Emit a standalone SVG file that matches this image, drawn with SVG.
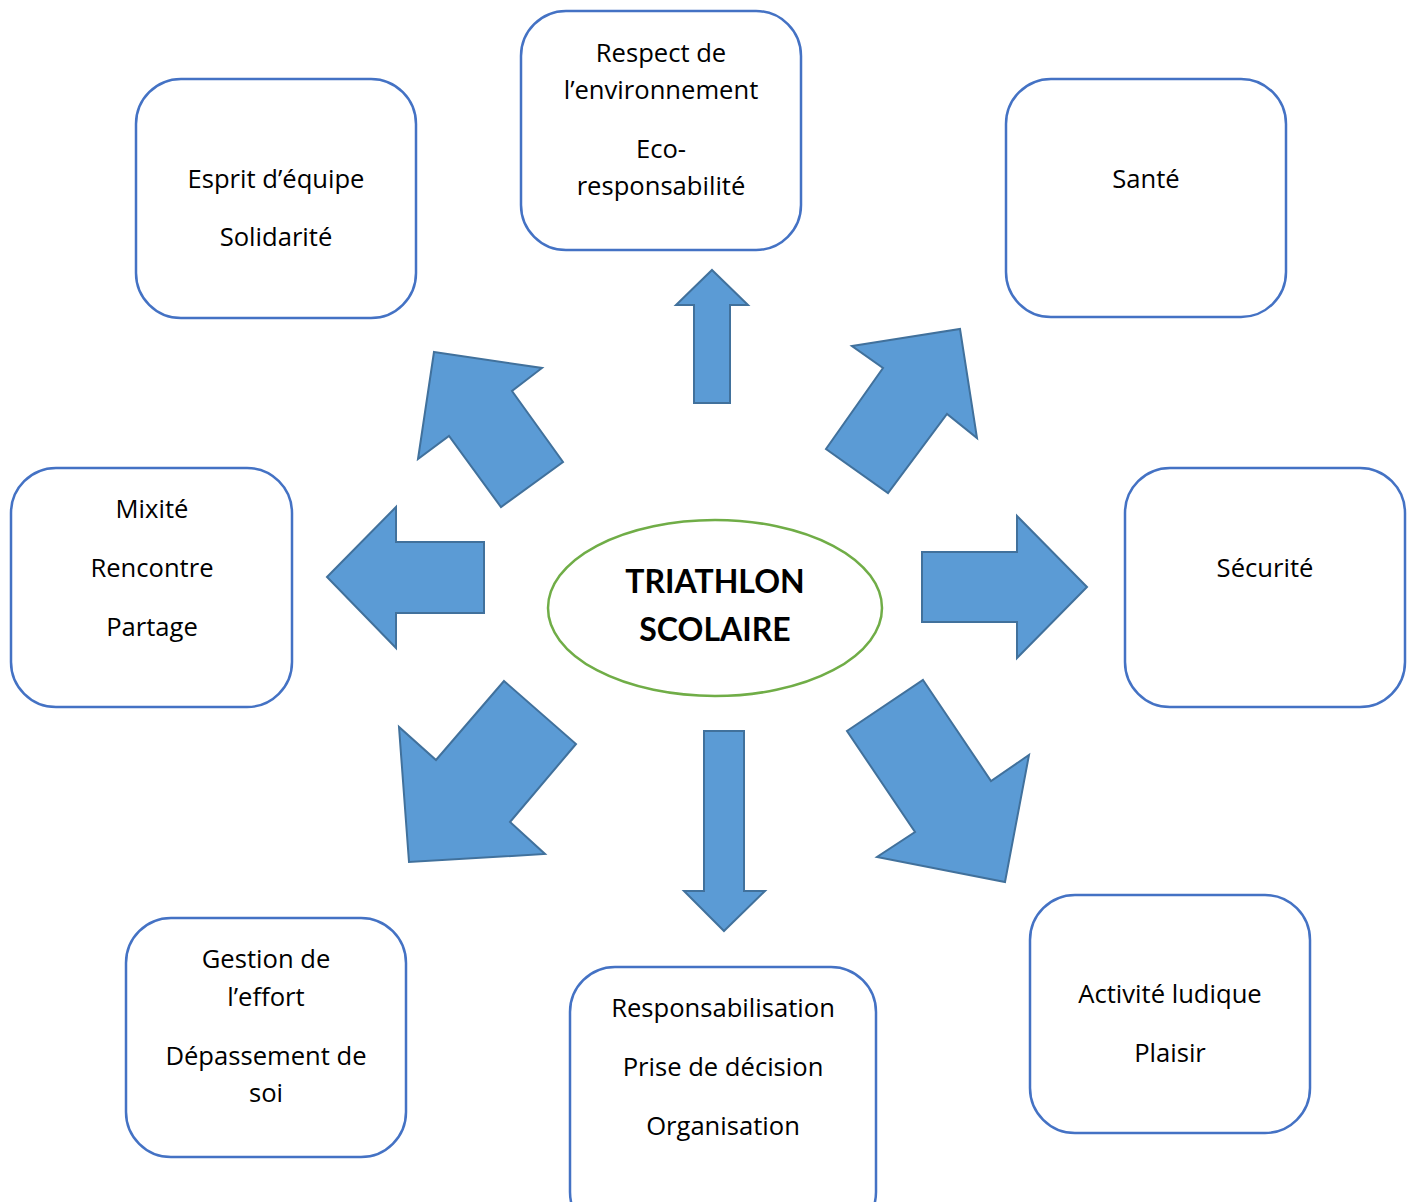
<svg xmlns="http://www.w3.org/2000/svg" width="1415" height="1202" viewBox="0 0 1415 1202">
<style>
.box{fill:#fff;stroke:#4472C4;stroke-width:2.5}
.arr{fill:#5B9BD5;stroke:#41719C;stroke-width:2;stroke-linejoin:miter}
.t{font-family:"Open Sans","Liberation Sans",sans-serif;font-size:25.6px;fill:#000;text-anchor:middle}
.c{font-family:Lato,"Liberation Sans",sans-serif;font-size:32px;font-weight:bold;fill:#000;text-anchor:middle}
</style>
<rect width="1415" height="1202" fill="#fff"/>
<g id="connectors">
<polygon class="arr" points="712,270 748,305 730,305 730,403 694,403 694,305 676,305"/>
<polygon class="arr" points="434,352 542,368 512,391 563,462 501,507 449,436 418,459"/>
<polygon class="arr" points="852,346 960,329 977,438 947,414 888,493 826,449 883,368"/>
<polygon class="arr" points="327,577 396,507 396,542 484,542 484,613 396,613 396,648"/>
<polygon class="arr" points="1087,587 1017,516 1017,552 922,552 922,622 1017,622 1017,658"/>
<polygon class="arr" points="724,931 765,891 744,891 744,731 704,731 704,891 684,891"/>
<polygon class="arr" points="504,681 576,744 510,822 545,854 409,862 399,727 436,760"/>
<polygon class="arr" points="923,680 991,781 1029,755 1005,882 877,857 915,832 847,731"/>
</g>
<g id="center">
<ellipse cx="715" cy="608" rx="167" ry="88" fill="#fff" stroke="#70AD47" stroke-width="2.5"/>
<text class="c" x="715" y="593">TRIATHLON</text>
<text class="c" x="715" y="641">SCOLAIRE</text>
</g>
<g id="n-esprit">
<rect class="box" x="136" y="79" width="280" height="239" rx="45"/>
<text class="t" x="276" y="188">Esprit d’équipe</text>
<text class="t" x="276" y="246">Solidarité</text>
</g>
<g id="n-respect">
<rect class="box" x="521" y="11" width="280" height="239" rx="45"/>
<text class="t" x="661" y="62">Respect de</text>
<text class="t" x="661" y="99">l’environnement</text>
<text class="t" x="661" y="158">Eco-</text>
<text class="t" x="661" y="195">responsabilité</text>
</g>
<g id="n-sante">
<rect class="box" x="1006" y="79" width="280" height="238" rx="45"/>
<text class="t" x="1146" y="188">Santé</text>
</g>
<g id="n-mixite">
<rect class="box" x="11" y="468" width="281" height="239" rx="45"/>
<text class="t" x="152" y="518">Mixité</text>
<text class="t" x="152" y="577">Rencontre</text>
<text class="t" x="152" y="636">Partage</text>
</g>
<g id="n-securite">
<rect class="box" x="1125" y="468" width="280" height="239" rx="45"/>
<text class="t" x="1265" y="577">Sécurité</text>
</g>
<g id="n-gestion">
<rect class="box" x="126" y="918" width="280" height="239" rx="45"/>
<text class="t" x="266" y="968">Gestion de</text>
<text class="t" x="266" y="1006">l’effort</text>
<text class="t" x="266" y="1065">Dépassement de</text>
<text class="t" x="266" y="1102">soi</text>
</g>
<g id="n-responsabilisation">
<rect class="box" x="570" y="967" width="306" height="270" rx="45"/>
<text class="t" x="723" y="1017">Responsabilisation</text>
<text class="t" x="723" y="1076">Prise de décision</text>
<text class="t" x="723" y="1135">Organisation</text>
</g>
<g id="n-activite">
<rect class="box" x="1030" y="895" width="280" height="238" rx="45"/>
<text class="t" x="1170" y="1003">Activité ludique</text>
<text class="t" x="1170" y="1062">Plaisir</text>
</g>
</svg>
